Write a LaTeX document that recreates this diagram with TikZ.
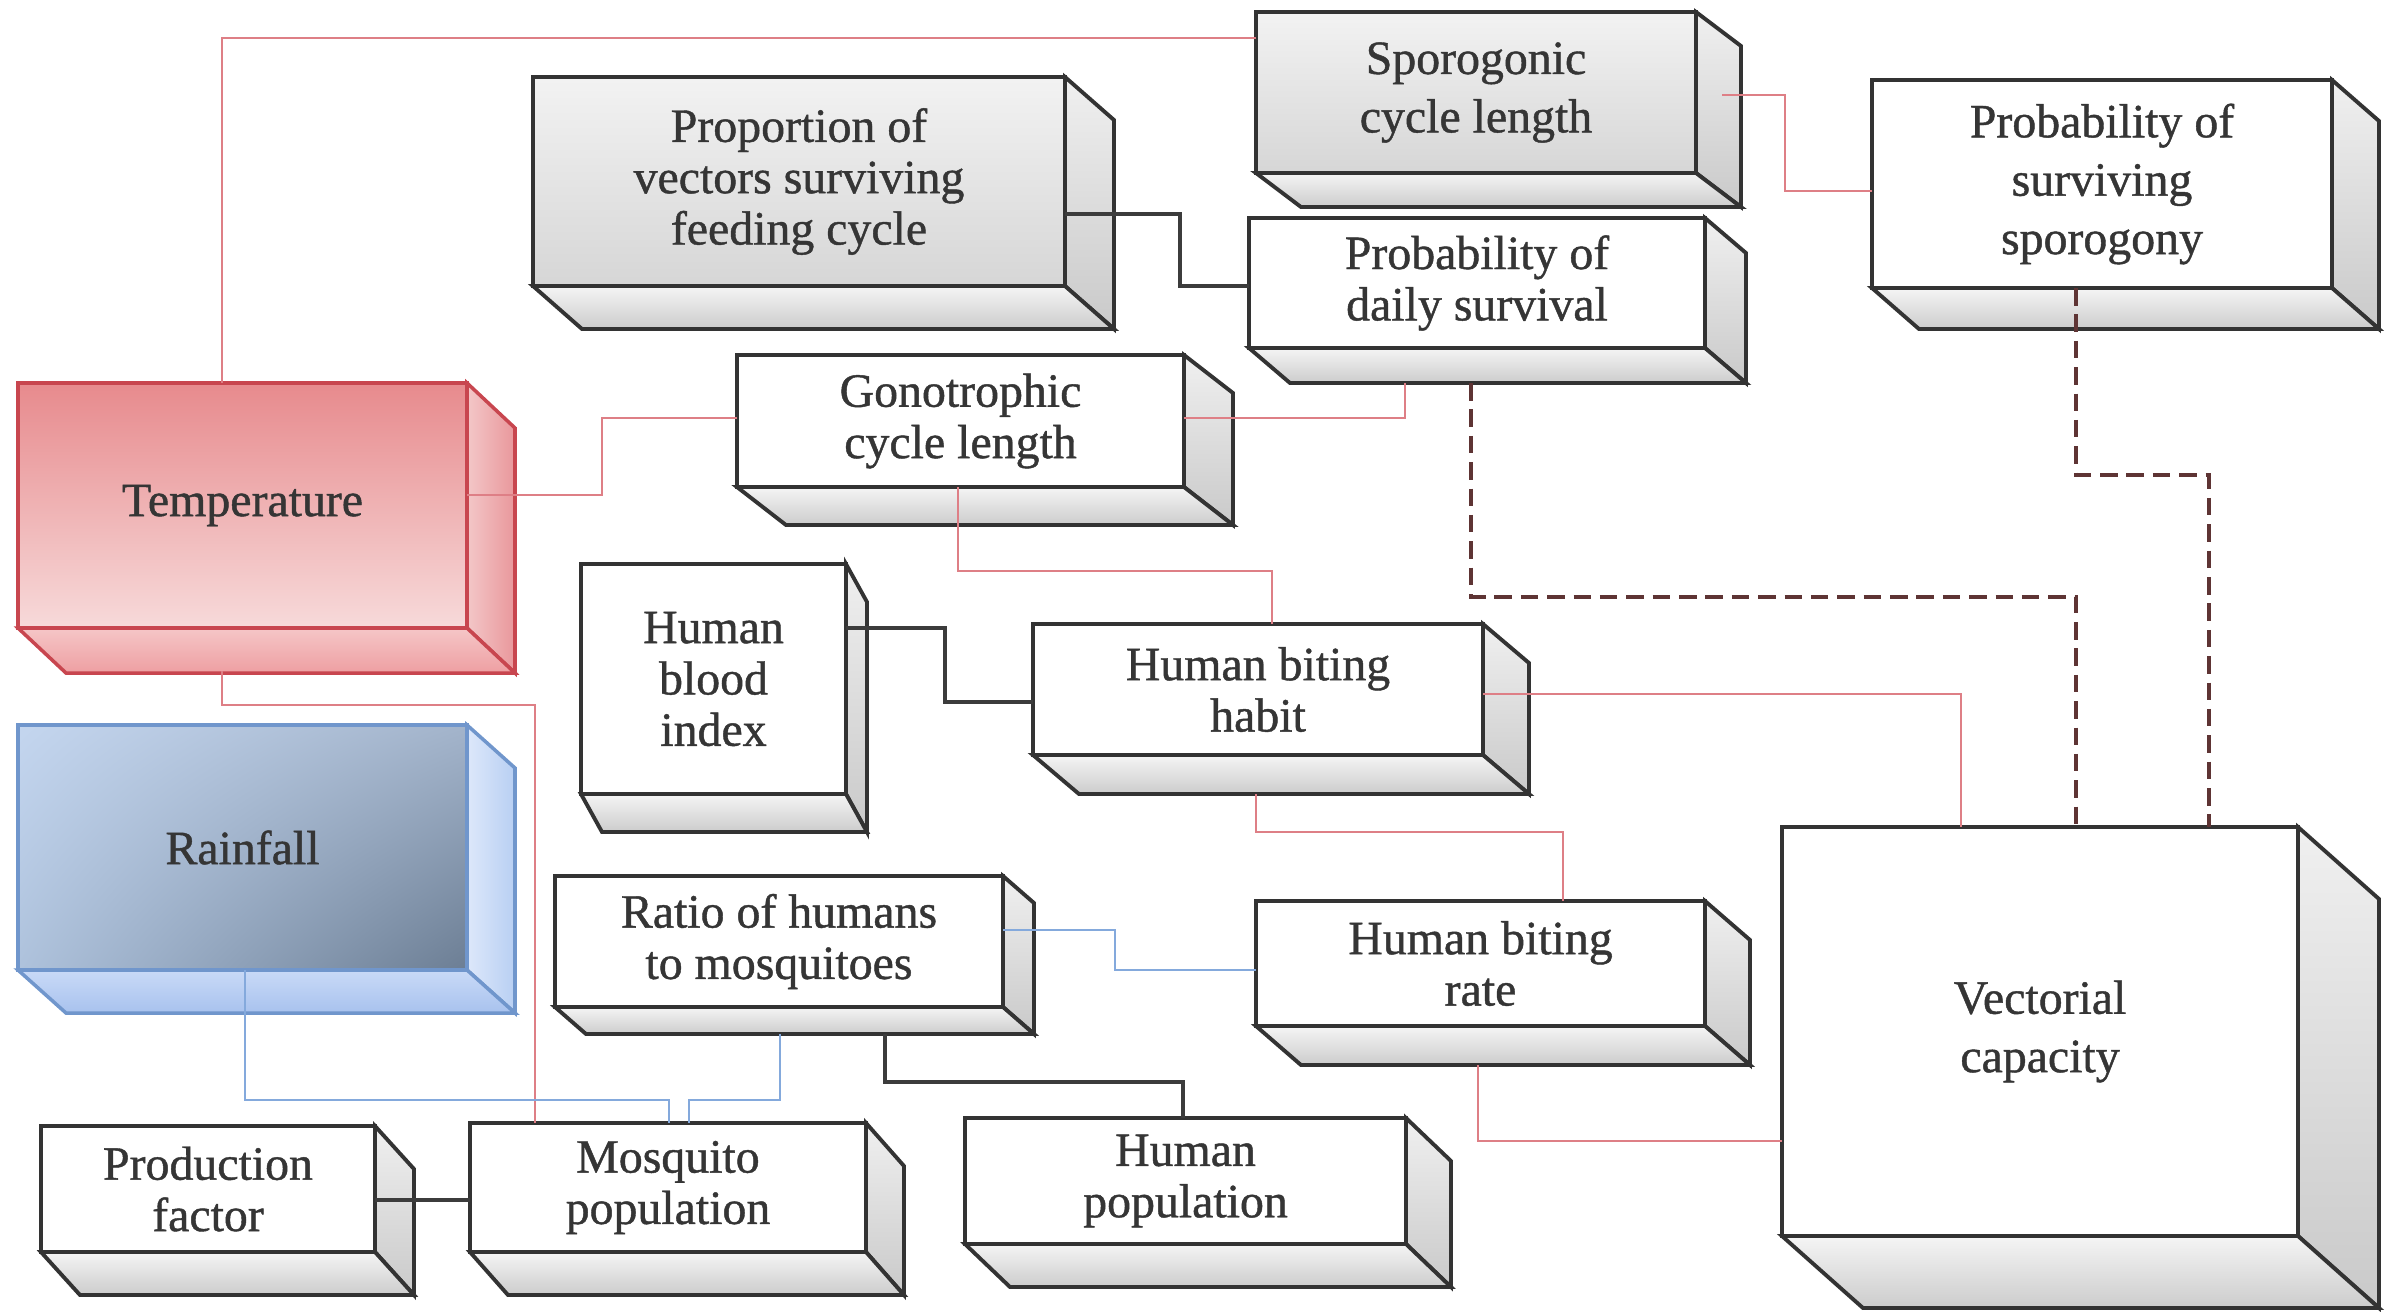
\documentclass[tikz,border=0pt]{standalone}
\usepackage{fontspec}
\setmainfont{Liberation Serif}[FakeBold=0.9]
\usetikzlibrary{calc,shadings}

\definecolor{edge}{HTML}{333333}
\definecolor{txt}{HTML}{353535}
\definecolor{redline}{HTML}{DE7F86}
\definecolor{blueline}{HTML}{84A9DC}
\definecolor{darkline}{HTML}{3C3C3C}
\definecolor{dashline}{HTML}{5E3434}
\definecolor{tempedge}{HTML}{C8464F}
\definecolor{rainedge}{HTML}{7096CC}
\definecolor{rainUL}{RGB}{196,214,239}
\definecolor{rainUR}{RGB}{163,180,203}
\definecolor{rainLL}{RGB}{174,194,220}
\definecolor{rainLR}{RGB}{108,126,148}
\definecolor{rainS1}{RGB}{221,232,250}
\definecolor{rainS2}{RGB}{184,207,243}
\definecolor{rainB1}{RGB}{201,218,247}
\definecolor{rainB2}{RGB}{168,194,238}
\definecolor{tempF1}{RGB}{231,138,141}
\definecolor{tempF2}{RGB}{247,218,218}
\definecolor{tempS1}{RGB}{243,199,200}
\definecolor{tempS2}{RGB}{233,151,155}
\definecolor{tempB1}{RGB}{245,198,199}
\definecolor{tempB2}{RGB}{238,159,162}

\tikzset{
  lbl/.style={align=center, text=txt, font=\fontsize{13.6}{14.6}\selectfont,
    inner sep=0pt, outer sep=0pt},
  % plain white blocks
  Wfront/.style={lbl, draw=edge, line width=1.1pt, fill=white},
  Wright/.style={draw=edge, line width=1.1pt, top color=gray!12, bottom color=gray!42},
  Wbottom/.style={draw=edge, line width=1.1pt, top color=gray!8, bottom color=gray!40},
  % grey blocks
  Gfront/.style={lbl, draw=edge, line width=1.1pt, top color=gray!10, bottom color=gray!32},
  Gright/.style={Wright},
  Gbottom/.style={Wbottom},
  % temperature block
  Tfront/.style={lbl, draw=tempedge, line width=1pt, top color=tempF1, bottom color=tempF2},
  Tright/.style={draw=tempedge, line width=1pt, left color=tempS1, right color=tempS2},
  Tbottom/.style={draw=tempedge, line width=1pt, top color=tempB1, bottom color=tempB2},
  % rainfall block
  Rfront/.style={lbl, draw=rainedge, line width=1pt,
    upper left=rainUL, upper right=rainUR, lower left=rainLL, lower right=rainLR},
  Rright/.style={draw=rainedge, line width=1pt, left color=rainS1, right color=rainS2},
  Rbottom/.style={draw=rainedge, line width=1pt, top color=rainB1, bottom color=rainB2},
  % connectors
  redlink/.style={draw=redline, line width=0.8pt},
  bluelink/.style={draw=blueline, line width=0.8pt},
  darklink/.style={draw=darkline, line width=1.2pt},
  dashlink/.style={draw=dashline, line width=1.4pt, dash pattern=on 5pt off 2.5pt},
}

% #1 name, #2 #3 top-left corner, #4 #5 bottom-right corner of the front face,
% #6 #7 depth offset, #8 style family, #9 label
\newcommand{\cuboid}[9]{%
  \node[#8front, minimum width={(#4-#2)*0.01cm}, minimum height={(#5-#3)*0.01cm},
        anchor=north west] (#1) at (#2,#3) {#9};
  \path[#8right] (#1.north east) -- ++(#6,#7) -- ($(#1.south east)+(#6,#7)$)
        -- (#1.south east) -- cycle;
  \path[#8bottom] (#1.south west) -- (#1.south east) -- ++(#6,#7)
        -- ($(#1.south west)+(#6,#7)$) -- cycle;
}

\begin{document}
\begin{tikzpicture}[x=0.01cm, y=-0.01cm, line join=miter]
\fill[white] (0,0) rectangle (2402,1311);
\useasboundingbox (0,0) rectangle (2402,1311);

% blocks
\cuboid{temp}{18}{383}{467}{628}{48}{45}{T}{Temperature}
\cuboid{rain}{18}{725}{467}{970}{48}{43}{R}{Rainfall}
\cuboid{sporo}{1256}{12}{1696}{173}{45}{34}{G}{Sporogonic\\[2pt]cycle length}
\cuboid{prop}{533}{77}{1065}{286}{49}{43}{G}{Proportion of\\vectors surviving\\feeding cycle}
\cuboid{daily}{1249}{218}{1705}{348}{41}{35}{W}{Probability of\\daily survival}
\cuboid{spgy}{1872}{80}{2332}{288}{47}{41}{W}{Probability of\\[2pt]surviving\\[2pt]sporogony}
\cuboid{gono}{737}{355}{1184}{487}{49}{38}{W}{Gonotrophic\\cycle length}
\cuboid{hbi}{581}{564}{846}{794}{21}{38}{W}{Human\\blood\\index}
\cuboid{habit}{1033}{624}{1483}{755}{46}{39}{W}{Human biting\\habit}
\cuboid{ratio}{555}{876}{1003}{1007}{31}{27}{W}{Ratio of humans\\to mosquitoes}
\cuboid{rate}{1256}{901}{1705}{1026}{45}{39}{W}{Human biting\\rate}
\cuboid{vc}{1782}{827}{2298}{1236}{81}{72}{W}{Vectorial\\[2pt]capacity}
\cuboid{prod}{41}{1126}{375}{1252}{39}{43}{W}{Production\\factor}
\cuboid{mosq}{470}{1123}{866}{1252}{38}{43}{W}{Mosquito\\population}
\cuboid{hpop}{965}{1118}{1406}{1244}{45}{43}{W}{Human\\population}

% connectors
\draw[redlink] ($(temp.north west)+(204,0)$) |- ($(sporo.north west)+(0,26)$);
\draw[redlink] ($(sporo.north east)+(26,83)$) -- ++(63,0) |- ($(spgy.north west)+(0,111)$);
\draw[darklink] ($(prop.north east)+(0,137)$) -- ++(115,0) |- ($(daily.south west)+(0,-62)$);
\draw[redlink] ($(temp.north east)+(0,112)$) -- ++(135,0) |- ($(gono.north west)+(0,63)$);
\draw[redlink] ($(gono.north east)+(0,63)$) -| ($(daily.south west)+(156,35)$);
\draw[dashlink] ($(daily.south west)+(222,35)$) |- ($(vc.north west)+(294,-230)$)
      -- ($(vc.north west)+(294,0)$);
\draw[dashlink] ($(spgy.south west)+(204,0)$) -- ++(0,187) -| ($(vc.north west)+(427,0)$);
\draw[redlink] ($(gono.south west)+(221,0)$) -- ++(0,84) -| ($(habit.north west)+(239,0)$);
\draw[darklink] ($(hbi.north east)+(0,64)$) -- ++(99,0) |- ($(habit.south west)+(0,-53)$);
\draw[redlink] ($(habit.north east)+(0,70)$) -| ($(vc.north west)+(179,0)$);
\draw[redlink] ($(habit.south west)+(223,39)$) -- ++(0,38) -| ($(rate.north west)+(307,0)$);
\draw[bluelink] ($(ratio.north east)+(0,54)$) -- ++(112,0) |- ($(rate.north west)+(0,69)$);
\draw[redlink] ($(rate.south west)+(222,39)$) |- ($(vc.south west)+(0,-95)$);
\draw[redlink] ($(temp.south west)+(204,43)$) -- ++(0,34) -| ($(mosq.north west)+(65,0)$);
\draw[bluelink] ($(rain.south west)+(227,0)$) -- ++(0,130) -| ($(mosq.north west)+(199,0)$);
\draw[bluelink] ($(ratio.south west)+(225,27)$) -- ++(0,66) -| ($(mosq.north west)+(219,0)$);
\draw[darklink] ($(ratio.south west)+(330,27)$) -- ++(0,48) -| ($(hpop.north west)+(218,0)$);
\draw[darklink] ($(prod.north east)+(0,74)$) -- ($(mosq.north west)+(0,77)$);
\end{tikzpicture}
\end{document}
